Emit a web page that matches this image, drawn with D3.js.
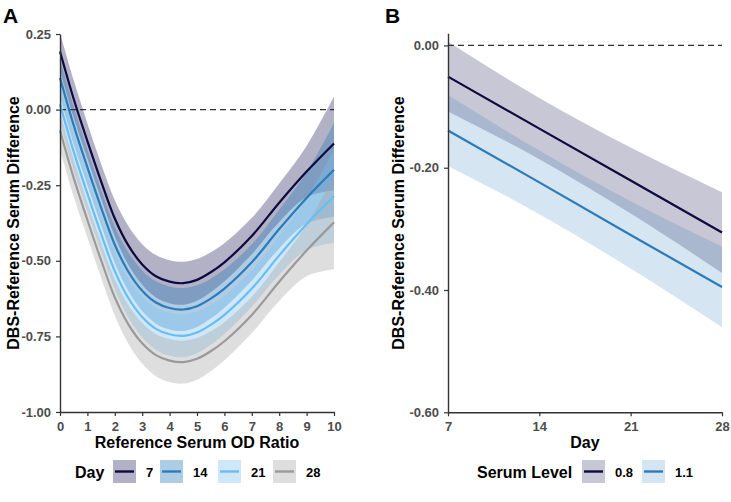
<!DOCTYPE html>
<html><head><meta charset="utf-8">
<script src="https://cdn.jsdelivr.net/npm/d3@7"></script>
<style>body{margin:0;background:#fff}svg{display:block;font-family:"Liberation Sans",Arial,sans-serif}</style>
</head><body><svg id="c" width="731" height="502"></svg>
<script>
// ---------- Panel A data ----------
const odRatio = [0,0.5,1,1.5,2,2.5,3,3.5,4,4.5,5,5.5,6,7,8,9,10];
const dayLevels = ["7","14","21","28"];
const fitDay7  = [0.192,0.035,-0.104,-0.237,-0.360,-0.450,-0.512,-0.551,-0.569,-0.574,-0.563,-0.538,-0.505,-0.418,-0.308,-0.205,-0.112];
const fitDay14 = [0.105,-0.052,-0.191,-0.324,-0.447,-0.537,-0.599,-0.638,-0.656,-0.661,-0.650,-0.625,-0.592,-0.505,-0.395,-0.292,-0.199];
const fitDay21 = [0.018,-0.139,-0.278,-0.411,-0.534,-0.624,-0.686,-0.725,-0.743,-0.748,-0.737,-0.712,-0.679,-0.592,-0.482,-0.379,-0.286];
const fitDay28 = [-0.069,-0.226,-0.365,-0.498,-0.621,-0.711,-0.773,-0.812,-0.830,-0.835,-0.824,-0.799,-0.766,-0.679,-0.569,-0.466,-0.373];
const loDay7   = [0.130,-0.027,-0.162,-0.295,-0.420,-0.514,-0.579,-0.621,-0.640,-0.645,-0.632,-0.604,-0.568,-0.478,-0.372,-0.290,-0.267];
const hiDay7   = [0.254,0.097,-0.046,-0.179,-0.300,-0.386,-0.445,-0.481,-0.498,-0.503,-0.494,-0.472,-0.442,-0.358,-0.244,-0.120,0.043];
const loDay14  = [0.043,-0.114,-0.249,-0.382,-0.507,-0.601,-0.666,-0.708,-0.727,-0.732,-0.719,-0.691,-0.655,-0.565,-0.459,-0.377,-0.354];
const hiDay14  = [0.167,0.010,-0.133,-0.266,-0.387,-0.473,-0.532,-0.568,-0.585,-0.590,-0.581,-0.559,-0.529,-0.445,-0.331,-0.207,-0.044];
const loDay21  = [-0.044,-0.201,-0.336,-0.469,-0.594,-0.688,-0.753,-0.795,-0.814,-0.819,-0.806,-0.778,-0.742,-0.652,-0.546,-0.464,-0.441];
const hiDay21  = [0.080,-0.077,-0.220,-0.353,-0.474,-0.560,-0.619,-0.655,-0.672,-0.677,-0.668,-0.646,-0.616,-0.532,-0.418,-0.294,-0.131];
const loDay28  = [-0.131,-0.288,-0.423,-0.556,-0.681,-0.775,-0.840,-0.882,-0.901,-0.906,-0.893,-0.865,-0.829,-0.739,-0.633,-0.551,-0.528];
const hiDay28  = [-0.007,-0.164,-0.307,-0.440,-0.561,-0.647,-0.706,-0.742,-0.759,-0.764,-0.755,-0.733,-0.703,-0.619,-0.505,-0.381,-0.218];
const xTicksA = [0,1,2,3,4,5,6,7,8,9,10];
const yTicksA = [0.25,0,-0.25,-0.5,-0.75,-1];

// ---------- Panel B data ----------
const days = [7,14,21,28];
const serumLevels = ["0.8","1.1"];
const fitS08 = [-0.051,-0.136,-0.221,-0.306];
const loS08  = [-0.108,-0.186,-0.275,-0.372];
const hiS08  = [0.006,-0.086,-0.167,-0.240];
const fitS11 = [-0.139,-0.224,-0.310,-0.395];
const loS11  = [-0.197,-0.276,-0.365,-0.461];
const hiS11  = [-0.081,-0.172,-0.255,-0.329];
const xTicksB = [7,14,21,28];
const yTicksB = [0,-0.2,-0.4,-0.6];

const lineColA = ["#0c0a3e","#2b7bba","#6cbcf2","#9a9a9a"];
const fillColA = ["#4a4675","#2b7bba","#7ec3f0","#a3a3a3"];
const fillOpA  = [0.42,0.38,0.38,0.36];
const lineColB = ["#0c0a3e","#2b7bba"];
const fillColB = ["#4a4675","#2b7bba"];
const fillOpB  = [0.3,0.2];

const svg = d3.select("#c");
const fmt2 = d => d.toFixed(2);

function axes(g, x, y, xt, yt, xfmt, yfmt){
  const xa = g.append("g").attr("transform",`translate(0,${y.range()[0]})`)
    .call(d3.axisBottom(x).tickValues(xt).tickFormat(xfmt).tickSize(4).tickSizeOuter(0));
  const ya = g.append("g").attr("transform",`translate(${x.range()[0]},0)`)
    .call(d3.axisLeft(y).tickValues(yt).tickFormat(yfmt).tickSize(4).tickSizeOuter(0));
  [xa,ya].forEach(a=>{
    a.select(".domain").attr("stroke","#333").attr("stroke-width",1.4);
    a.selectAll(".tick line").attr("stroke","#333").attr("stroke-width",1.2);
    a.selectAll(".tick text").attr("fill","#4d4d4d").attr("font-size",13).attr("font-weight","bold")
      .attr("font-family","Liberation Sans, Arial, sans-serif");
  });
  xa.selectAll(".tick text").attr("dy","0.9em");
  ya.selectAll(".tick text").attr("dx","-0.15em");
}

// ---------- Panel A ----------
{
  const x = d3.scaleLinear().domain([0,10]).range([60,334]);
  const y = d3.scaleLinear().domain([-1,0.25]).range([412,34]);
  const g = svg.append("g");
  const fits=[fitDay7,fitDay14,fitDay21,fitDay28], los=[loDay7,loDay14,loDay21,loDay28], his=[hiDay7,hiDay14,hiDay21,hiDay28];
  const curve = d3.curveCatmullRom.alpha(0.5);
  dayLevels.forEach((d,i)=>{
    const area = d3.area().x((v,j)=>x(odRatio[j])).y0((v,j)=>y(los[i][j])).y1((v,j)=>y(his[i][j])).curve(curve);
    g.append("path").attr("d",area(odRatio)).attr("fill",fillColA[i]).attr("fill-opacity",fillOpA[i]);
  });
  g.append("line").attr("x1",x(0)).attr("x2",x(10)).attr("y1",y(0)).attr("y2",y(0))
    .attr("stroke","#333").attr("stroke-width",1.3).attr("stroke-dasharray","6,4");
  dayLevels.forEach((d,i)=>{
    const line = d3.line().x((v,j)=>x(odRatio[j])).y((v)=>y(v)).curve(curve);
    g.append("path").attr("d",line(fits[i])).attr("fill","none").attr("stroke",lineColA[i]).attr("stroke-width",2.2);
  });
  axes(g,x,y,xTicksA,yTicksA,d=>d,fmt2);
  g.append("text").attr("x",3).attr("y",23).attr("font-size",21).attr("font-weight","bold").text("A");
  g.append("text").attr("x",197).attr("y",448).attr("text-anchor","middle").attr("font-size",16).attr("font-weight","bold").text("Reference Serum OD Ratio");
  g.append("text").attr("transform","translate(19,223) rotate(-90)").attr("text-anchor","middle").attr("font-size",16).attr("font-weight","bold").text("DBS-Reference Serum Difference");
  // legend
  const lg = g.append("g");
  lg.append("text").attr("x",75).attr("y",478).attr("font-size",16).attr("font-weight","bold").text("Day");
  const kx=[113,160,218,273];
  dayLevels.forEach((d,i)=>{
    lg.append("rect").attr("x",kx[i]).attr("y",460).attr("width",23).attr("height",23).attr("fill",fillColA[i]).attr("fill-opacity",fillOpA[i]);
    lg.append("line").attr("x1",kx[i]+2).attr("x2",kx[i]+21).attr("y1",471.5).attr("y2",471.5).attr("stroke",lineColA[i]).attr("stroke-width",2.4);
    lg.append("text").attr("x",kx[i]+33).attr("y",476.5).attr("font-size",13).attr("font-weight","bold").text(d);
  });
}

// ---------- Panel B ----------
{
  const x = d3.scaleLinear().domain([7,28]).range([448,722]);
  const y = d3.scaleLinear().domain([-0.6,0.02]).range([412.3,33.2]);
  const g = svg.append("g");
  const fits=[fitS08,fitS11], los=[loS08,loS11], his=[hiS08,hiS11];
  serumLevels.forEach((s,i)=>{
    const area = d3.area().x((v,j)=>x(days[j])).y0((v,j)=>y(los[i][j])).y1((v,j)=>y(his[i][j])).curve(d3.curveMonotoneX);
    g.append("path").attr("d",area(days)).attr("fill",fillColB[i]).attr("fill-opacity",fillOpB[i]);
  });
  g.append("line").attr("x1",x(7)).attr("x2",x(28)).attr("y1",y(0)).attr("y2",y(0))
    .attr("stroke","#333").attr("stroke-width",1.3).attr("stroke-dasharray","6,4");
  serumLevels.forEach((s,i)=>{
    const line = d3.line().x((v,j)=>x(days[j])).y(v=>y(v));
    g.append("path").attr("d",line(fits[i])).attr("fill","none").attr("stroke",lineColB[i]).attr("stroke-width",2.2);
  });
  axes(g,x,y,xTicksB,yTicksB,d=>d,fmt2);
  g.append("text").attr("x",385).attr("y",23).attr("font-size",21).attr("font-weight","bold").text("B");
  g.append("text").attr("x",585).attr("y",448).attr("text-anchor","middle").attr("font-size",16).attr("font-weight","bold").text("Day");
  g.append("text").attr("transform","translate(404,223) rotate(-90)").attr("text-anchor","middle").attr("font-size",16).attr("font-weight","bold").text("DBS-Reference Serum Difference");
  const lg = g.append("g");
  lg.append("text").attr("x",477).attr("y",478).attr("font-size",16).attr("font-weight","bold").text("Serum Level");
  const kx=[582,642];
  serumLevels.forEach((s,i)=>{
    lg.append("rect").attr("x",kx[i]).attr("y",460).attr("width",23).attr("height",23).attr("fill",fillColB[i]).attr("fill-opacity",fillOpB[i]);
    lg.append("line").attr("x1",kx[i]+2).attr("x2",kx[i]+21).attr("y1",471.5).attr("y2",471.5).attr("stroke",lineColB[i]).attr("stroke-width",2.4);
    lg.append("text").attr("x",kx[i]+33).attr("y",476.5).attr("font-size",13).attr("font-weight","bold").text(s);
  });
}
</script></body></html>
